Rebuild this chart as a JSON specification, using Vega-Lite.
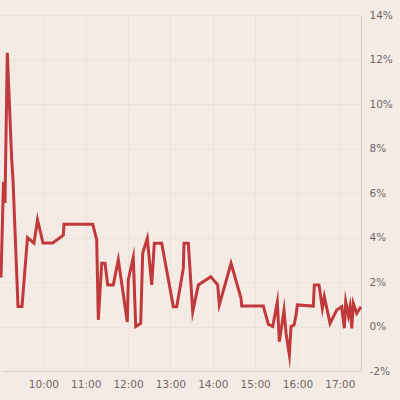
{
  "$schema": "https://vega.github.io/schema/vega-lite/v6.json",
  "autosize": "none",
  "width": 360,
  "height": 356,
  "padding": {"left": 1, "top": 15, "right": 39, "bottom": 29},
  "background": "#f5ebe5",
  "config": {
    "view": {"stroke": null},
    "axis": {
      "labelFont": "DejaVu Sans",
      "labelFontSize": 10.5,
      "labelColor": "#6e6866",
      "gridColor": "#efe1d9",
      "gridWidth": 1,
      "domainColor": "#d8ccc7",
      "ticks": false,
      "title": null
    }
  },
  "data": {
    "values": [
      {"t": "2024-01-02T09:00:00", "v": 2.2},
      {"t": "2024-01-02T09:03:32", "v": 6.5},
      {"t": "2024-01-02T09:05:40", "v": 5.55},
      {"t": "2024-01-02T09:08:56", "v": 12.3},
      {"t": "2024-01-02T09:15:10", "v": 7.5},
      {"t": "2024-01-02T09:17:00", "v": 6.6},
      {"t": "2024-01-02T09:24:05", "v": 0.9},
      {"t": "2024-01-02T09:29:45", "v": 0.9},
      {"t": "2024-01-02T09:37:33", "v": 4.0},
      {"t": "2024-01-02T09:46:45", "v": 3.75},
      {"t": "2024-01-02T09:51:43", "v": 4.8},
      {"t": "2024-01-02T09:59:30", "v": 3.75},
      {"t": "2024-01-02T10:13:15", "v": 3.75},
      {"t": "2024-01-02T10:28:16", "v": 4.1},
      {"t": "2024-01-02T10:29:15", "v": 4.6},
      {"t": "2024-01-02T11:09:55", "v": 4.6},
      {"t": "2024-01-02T11:15:35", "v": 3.9},
      {"t": "2024-01-02T11:17:51", "v": 0.3},
      {"t": "2024-01-02T11:22:40", "v": 2.84},
      {"t": "2024-01-02T11:27:21", "v": 2.84},
      {"t": "2024-01-02T11:31:10", "v": 1.87},
      {"t": "2024-01-02T11:39:06", "v": 1.87},
      {"t": "2024-01-02T11:46:11", "v": 3.0},
      {"t": "2024-01-02T11:58:56", "v": 0.2},
      {"t": "2024-01-02T12:00:21", "v": 2.1},
      {"t": "2024-01-02T12:07:26", "v": 3.1},
      {"t": "2024-01-02T12:10:50", "v": 0.0},
      {"t": "2024-01-02T12:17:55", "v": 0.14},
      {"t": "2024-01-02T12:20:45", "v": 3.3},
      {"t": "2024-01-02T12:27:17", "v": 3.96},
      {"t": "2024-01-02T12:33:30", "v": 1.87},
      {"t": "2024-01-02T12:37:12", "v": 3.74},
      {"t": "2024-01-02T12:47:41", "v": 3.74},
      {"t": "2024-01-02T13:04:07", "v": 0.89},
      {"t": "2024-01-02T13:08:56", "v": 0.89},
      {"t": "2024-01-02T13:18:17", "v": 2.6},
      {"t": "2024-01-02T13:19:16", "v": 3.74},
      {"t": "2024-01-02T13:25:22", "v": 3.74},
      {"t": "2024-01-02T13:31:37", "v": 0.67},
      {"t": "2024-01-02T13:39:32", "v": 1.87},
      {"t": "2024-01-02T13:57:06", "v": 2.24},
      {"t": "2024-01-02T14:07:00", "v": 1.87},
      {"t": "2024-01-02T14:09:18", "v": 0.97},
      {"t": "2024-01-02T14:25:55", "v": 2.84},
      {"t": "2024-01-02T14:40:02", "v": 1.27},
      {"t": "2024-01-02T14:41:02", "v": 0.92},
      {"t": "2024-01-02T15:11:38", "v": 0.92},
      {"t": "2024-01-02T15:18:43", "v": 0.1},
      {"t": "2024-01-02T15:24:56", "v": 0.0},
      {"t": "2024-01-02T15:31:28", "v": 1.1},
      {"t": "2024-01-02T15:34:18", "v": -0.68},
      {"t": "2024-01-02T15:40:57", "v": 0.74},
      {"t": "2024-01-02T15:43:47", "v": -0.3},
      {"t": "2024-01-02T15:48:29", "v": -1.28},
      {"t": "2024-01-02T15:50:52", "v": 0.0},
      {"t": "2024-01-02T15:55:07", "v": 0.07},
      {"t": "2024-01-02T15:57:57", "v": 0.5},
      {"t": "2024-01-02T15:59:48", "v": 0.97},
      {"t": "2024-01-02T16:22:28", "v": 0.92},
      {"t": "2024-01-02T16:23:53", "v": 1.87},
      {"t": "2024-01-02T16:30:32", "v": 1.87},
      {"t": "2024-01-02T16:35:13", "v": 0.82},
      {"t": "2024-01-02T16:38:02", "v": 1.34},
      {"t": "2024-01-02T16:46:08", "v": 0.14},
      {"t": "2024-01-02T16:55:36", "v": 0.74},
      {"t": "2024-01-02T17:02:42", "v": 0.89},
      {"t": "2024-01-02T17:06:22", "v": -0.08},
      {"t": "2024-01-02T17:08:22", "v": 1.1},
      {"t": "2024-01-02T17:12:03", "v": 0.5},
      {"t": "2024-01-02T17:14:28", "v": 0.89},
      {"t": "2024-01-02T17:16:53", "v": -0.08},
      {"t": "2024-01-02T17:19:08", "v": 1.04},
      {"t": "2024-01-02T17:23:57", "v": 0.59},
      {"t": "2024-01-02T17:30:00", "v": 0.89}
    ]
  },
  "mark": {"type": "line", "color": "#c0393b", "strokeWidth": 3, "strokeJoin": "miter", "strokeMiterLimit": 10},
  "encoding": {
    "x": {
      "field": "t",
      "type": "temporal",
      "scale": {
        "domain": [
          {"year": 2024, "month": 1, "date": 2, "hours": 9},
          {"year": 2024, "month": 1, "date": 2, "hours": 17, "minutes": 30}
        ]
      },
      "axis": {
        "format": "%H:%M",
        "labelPadding": 8,
        "values": [
          {"year": 2024, "month": 1, "date": 2, "hours": 10},
          {"year": 2024, "month": 1, "date": 2, "hours": 11},
          {"year": 2024, "month": 1, "date": 2, "hours": 12},
          {"year": 2024, "month": 1, "date": 2, "hours": 13},
          {"year": 2024, "month": 1, "date": 2, "hours": 14},
          {"year": 2024, "month": 1, "date": 2, "hours": 15},
          {"year": 2024, "month": 1, "date": 2, "hours": 16},
          {"year": 2024, "month": 1, "date": 2, "hours": 17}
        ]
      }
    },
    "y": {
      "field": "v",
      "type": "quantitative",
      "scale": {"domain": [-2, 14], "nice": false, "zero": false},
      "axis": {
        "orient": "right",
        "values": [-2, 0, 2, 4, 6, 8, 10, 12, 14],
        "labelExpr": "datum.value + '%'",
        "labelPadding": 8
      }
    }
  }
}
